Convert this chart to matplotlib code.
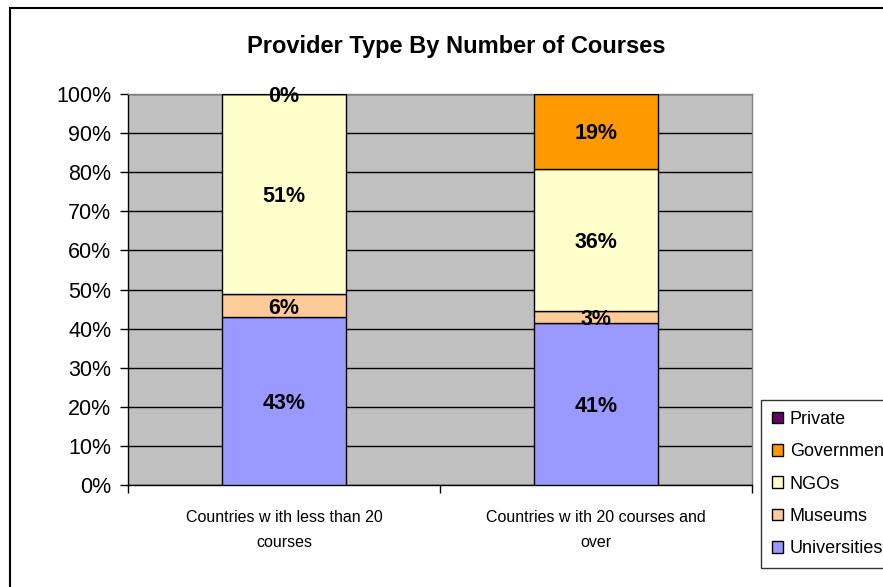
import matplotlib
matplotlib.use("Agg")
import matplotlib.pyplot as plt
from matplotlib.patches import Patch, Rectangle
import numpy as np

plt.rcParams['font.family'] = ['Liberation Sans', 'DejaVu Sans']

categories = ["Countries w ith less than 20\ncourses", "Countries w ith 20 courses and\nover"]
series_names = ["Universities", "Museums", "NGOs", "Government", "Private"]
universities = [43.0, 41.4]
museums = [5.8, 3.1]
ngos = [51.2, 36.4]
government = [0.0, 19.1]
private = [np.nan, np.nan]
colors = ["#9999FF", "#FFCC99", "#FFFFCC", "#FF9900", "#660066"]
yticks = [0, 10, 20, 30, 40, 50, 60, 70, 80, 90, 100]
title = "Provider Type By Number of Courses"

W, H = 883, 587
fig = plt.figure(figsize=(W / 100, H / 100), dpi=100)
ax = fig.add_axes([128 / W, 1 - 485 / H, (752 - 128) / W, (485 - 94) / H])
ax.set_facecolor("#C0C0C0")

x = np.arange(len(categories))
bottom = np.zeros(len(categories))
all_series = [universities, museums, ngos, government, private]
for name, vals, col in zip(series_names, all_series, colors):
    v = np.array(vals, dtype=float)
    h = np.nan_to_num(v)
    ax.bar(x, h, 0.4, bottom=bottom, color=col, edgecolor="black", linewidth=1.0, zorder=3)
    for xi, vi, bi in zip(x, v, bottom):
        if not np.isnan(vi):
            ax.text(xi, bi + vi / 2, f"{vi:.0f}%", ha="center", va="center_baseline",
                    fontsize=15.5, fontweight="bold", zorder=5)
    bottom = bottom + h

ax.set_xlim(-0.5, 1.5)
ax.set_ylim(0, 100)
ax.set_yticks(yticks)
ax.set_yticklabels([f"{t}%" for t in yticks], fontsize=15.5)
ax.yaxis.grid(True, color="black", linewidth=1.0, zorder=1)
ax.set_axisbelow(True)
ax.tick_params(axis="y", direction="out", length=6, width=1.0, pad=6)

ax.set_xticks(x)
ax.set_xticklabels(categories, fontsize=11.5, linespacing=1.8)
ax.tick_params(axis="x", length=0, pad=18)
ax.set_xticks([-0.5, 0.5, 1.5], minor=True)
ax.tick_params(axis="x", which="minor", direction="out", length=6, width=1.0)

for s in ["top", "right"]:
    ax.spines[s].set_color("#808080")
    ax.spines[s].set_linewidth(1.0)
for s in ["left", "bottom"]:
    ax.spines[s].set_color("black")
    ax.spines[s].set_linewidth(1.0)

fig.text(456 / W, 1 - 46 / H, title, ha="center", va="center", fontsize=17, fontweight="bold")

handles = [Patch(facecolor=c, edgecolor="black", linewidth=1.0) for c in colors]
leg = fig.legend(handles[::-1], series_names[::-1], loc="upper left",
                 bbox_to_anchor=(761 / W, 1 - 400 / H), fontsize=13,
                 frameon=True, fancybox=False, handlelength=0.6, handleheight=0.6,
                 handletextpad=0.4, labelspacing=0.85, borderpad=0.6, borderaxespad=0)
leg.get_frame().set_edgecolor("black")
leg.get_frame().set_linewidth(1.0)

fig.patches.append(Rectangle((10 / W, -0.1), 1.2, 1 - 8 / H + 0.1, transform=fig.transFigure,
                             fill=False, edgecolor="black", linewidth=1.5, zorder=0))

fig.savefig("out.png", dpi=100)
